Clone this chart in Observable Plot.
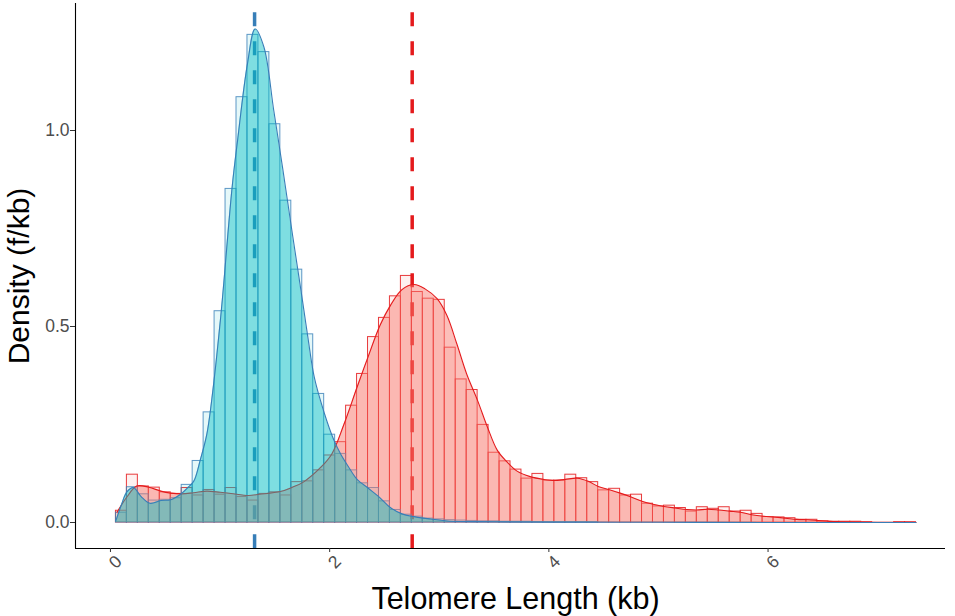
<!DOCTYPE html>
<html>
<head>
<meta charset="utf-8">
<script src="https://cdn.jsdelivr.net/npm/d3@7"></script>
<script src="https://cdn.jsdelivr.net/npm/@observablehq/plot@0.6"></script>
<style>
  html, body { margin: 0; padding: 0; background: #ffffff; }
  #chart svg { display: block; }
</style>
</head>
<body>
<div id="chart"></div>
<script>
// ---- data ----
const binWidth = 0.1;
const binCenters = d3.range(1, 74).map(i => +(i * binWidth).toFixed(1)); // 0.1 .. 7.3

const redHist = [
  0.030, 0.122, 0.092, 0.089, 0.077, 0.073, 0.088, 0.069, 0.083, 0.071,
  0.088, 0.065, 0.056, 0.073, 0.077, 0.069, 0.103, 0.105, 0.133, 0.171,
  0.205, 0.298, 0.379, 0.473, 0.522, 0.577, 0.629, 0.588, 0.571, 0.568,
  0.446, 0.365, 0.338, 0.249, 0.178, 0.156, 0.135, 0.112, 0.124, 0.107,
  0.107, 0.122, 0.113, 0.103, 0.082, 0.086, 0.069, 0.071, 0.048, 0.041,
  0.043, 0.037, 0.028, 0.039, 0.035, 0.039, 0.028, 0.030, 0.022, 0.014,
  0.013, 0.011, 0.007, 0.007, 0.003, 0.002, 0.002, 0.002, 0.001, 0.000,
  0.000, 0.001, 0.001
];

const blueHist = [
  0.025, 0.090, 0.072, 0.056, 0.058, 0.062, 0.096, 0.157, 0.281, 0.539,
  0.851, 1.085, 1.244, 1.200, 1.016, 0.821, 0.645, 0.480, 0.328, 0.224,
  0.175, 0.133, 0.100, 0.088, 0.054, 0.032, 0.020, 0.015, 0.010, 0.008,
  0.006, 0.005, 0.004, 0.003, 0.003, 0.002, 0.002, 0.002, 0.001, 0.001,
  0.001, 0.001, 0.001, 0.001, 0.000, 0.000, 0.000, 0.000, 0.000, 0.000,
  0.000, 0.000, 0.000, 0.000, 0.000, 0.000, 0.000, 0.000, 0.000, 0.000,
  0.000, 0.000, 0.000, 0.000, 0.000, 0.000, 0.000, 0.000, 0.000, 0.000,
  0.000, 0.000, 0.000
];

const blueDensX = [0.05, 0.10, 0.15, 0.21, 0.28, 0.36, 0.46, 0.55, 0.64, 0.71,
  0.76, 0.82, 0.88, 0.94, 0.99, 1.02, 1.11, 1.16, 1.25, 1.32,
  1.40, 1.49, 1.57, 1.66, 1.75, 1.80, 1.86, 1.95, 2.04, 2.10,
  2.17, 2.25, 2.35, 2.46, 2.55, 2.66, 2.77, 2.92, 3.07, 3.50,
  4.00, 5.00, 6.00, 7.35];
const blueDensY = [0.005, 0.045, 0.078, 0.089, 0.066, 0.049, 0.056, 0.058, 0.072, 0.090,
  0.105, 0.160, 0.226, 0.350, 0.480, 0.566, 0.855, 0.975, 1.170, 1.259,
  1.213, 1.051, 0.906, 0.736, 0.570, 0.475, 0.370, 0.280, 0.209, 0.175,
  0.143, 0.110, 0.088, 0.063, 0.039, 0.022, 0.015, 0.009, 0.004, 0.002,
  0.001, 0.0005, 0.0002, 0.000];

const redDensX = [0.06, 0.15, 0.24, 0.35, 0.46, 0.55, 0.65, 0.76, 0.88, 1.00,
  1.10, 1.26, 1.36, 1.55, 1.66, 1.76, 1.92, 2.02, 2.13, 2.25,
  2.35, 2.46, 2.555, 2.66, 2.77, 2.87, 2.98, 3.07, 3.16, 3.25,
  3.35, 3.44, 3.53, 3.62, 3.71, 3.83, 3.95, 4.05, 4.15, 4.26,
  4.36, 4.45, 4.56, 4.65, 4.75, 4.85, 4.96, 5.05, 5.15, 5.26,
  5.35, 5.45, 5.55, 5.65, 5.75, 5.85, 5.96, 6.05, 6.16, 6.26,
  6.36, 6.46, 6.56, 6.66, 6.80, 7.00, 7.35];
const redDensY = [0.026, 0.065, 0.093, 0.090, 0.080, 0.075, 0.073, 0.076, 0.080, 0.077,
  0.074, 0.069, 0.072, 0.079, 0.090, 0.103, 0.141, 0.175, 0.250, 0.345,
  0.422, 0.503, 0.554, 0.594, 0.607, 0.596, 0.571, 0.528, 0.456, 0.379,
  0.311, 0.243, 0.184, 0.154, 0.131, 0.117, 0.110, 0.107, 0.110, 0.113,
  0.105, 0.092, 0.083, 0.075, 0.065, 0.054, 0.046, 0.041, 0.037, 0.033,
  0.032, 0.034, 0.032, 0.029, 0.026, 0.020, 0.016, 0.014, 0.011, 0.008,
  0.007, 0.005, 0.003, 0.002, 0.001, 0.0005, 0.000];

const groups = ["blue", "red"];
const means = [1.315, 2.753];           // dashed mean lines (blue, red)
const xTicks = [0, 2, 4, 6];
const yTicks = [0, 0.5, 1.0];
const yTickLabels = ["0.0", "0.5", "1.0"];
const xDomain = [-0.319, 7.619];
const yDomain = [-0.0663, 1.324];
const xTitle = "Telomere Length (kb)";
const yTitle = "Density (f/kb)";

// ---- styles ----
const fillCol = {red: "#F8766D", blue: "#00BFC4"};
const lineCol = {red: "#E41A1C", blue: "#377EB8"};

// ---- tables built from the arrays ----
const histTable = (vals) => binCenters.map((c, i) => ({x1: c - binWidth / 2, x2: c + binWidth / 2, v: vals[i]}));
const densTable = (xs, ys) => xs.map((x, i) => ({x, y: ys[i]}));
const redBins = histTable(redHist);
const blueBins = histTable(blueHist);
const redDens = densTable(redDensX, redDensY);
const blueDens = densTable(blueDensX, blueDensY);
const meanRows = means.map((m, i) => ({x: m, g: groups[i]}));
const yLabelRows = yTicks.map((t, i) => ({y: t, label: yTickLabels[i]}));

const chart = Plot.plot({
  width: 955,
  height: 616,
  marginTop: 3,
  marginRight: 10,
  marginBottom: 68,
  marginLeft: 75,
  x: {domain: xDomain, axis: null},
  y: {domain: yDomain, axis: null},
  style: {fontFamily: "'Liberation Sans', Arial, Helvetica, sans-serif", background: "white"},
  marks: [
    // mean lines (under the densities)
    Plot.ruleX(meanRows, {x: "x", stroke: d => lineCol[d.g], strokeWidth: 3.5,
      strokeDasharray: "14,15", strokeDashoffset: 19.7}),
    // histograms
    Plot.rectY(redBins, {x1: "x1", x2: "x2", y: "v", inset: 0, fill: fillCol.red, fillOpacity: 0.1,
      stroke: lineCol.red, strokeOpacity: 0.85, strokeWidth: 1}),
    Plot.rectY(blueBins, {x1: "x1", x2: "x2", y: "v", inset: 0, fill: fillCol.blue, fillOpacity: 0.1,
      stroke: lineCol.blue, strokeOpacity: 0.8, strokeWidth: 1}),
    // red density
    Plot.areaY(redDens, {x: "x", y: "y", curve: "catmull-rom", fill: fillCol.red, fillOpacity: 0.47}),
    Plot.lineY(redDens, {x: "x", y: "y", curve: "catmull-rom", stroke: lineCol.red, strokeWidth: 1.1}),
    // blue density
    Plot.areaY(blueDens, {x: "x", y: "y", curve: "catmull-rom", fill: fillCol.blue, fillOpacity: 0.45}),
    Plot.lineY(blueDens, {x: "x", y: "y", curve: "catmull-rom", stroke: lineCol.blue, strokeWidth: 1.1}),
    // axis lines
    Plot.ruleX([xDomain[0]], {stroke: "black", strokeWidth: 1.1}),
    Plot.ruleY([yDomain[0]], {stroke: "black", strokeWidth: 1.1}),
    // y axis ticks + labels
    Plot.axisY({ticks: yTicks, tickFormat: () => "", tickSize: 5, color: "#333333", label: null}),
    Plot.text(yLabelRows, {y: "y", text: "label", frameAnchor: "left", dx: -6, textAnchor: "end",
      lineAnchor: "middle", fontSize: 17.5, fill: "#4D4D4D"}),
    // x ticks + labels
    Plot.axisX({ticks: xTicks, tickSize: 4, tickFormat: () => "", color: "#333333", label: null}),
    Plot.text(xTicks, {x: d => d, text: d => String(d), frameAnchor: "bottom", dy: 13.5, dx: 5,
      rotate: -45, textAnchor: "middle", lineAnchor: "middle", fontSize: 17.5, fill: "#4D4D4D"}),
    // titles
    Plot.text([xTitle], {text: d => d, frameAnchor: "bottom", dy: 51, dx: 5, textAnchor: "middle",
      lineAnchor: "middle", fontSize: 30.5, fill: "black"}),
    Plot.text([yTitle], {text: d => d, frameAnchor: "left", dx: -56, rotate: -90, textAnchor: "middle",
      lineAnchor: "middle", fontSize: 30, fill: "black"})
  ]
});
document.getElementById("chart").appendChild(chart);
</script>
</body>
</html>
